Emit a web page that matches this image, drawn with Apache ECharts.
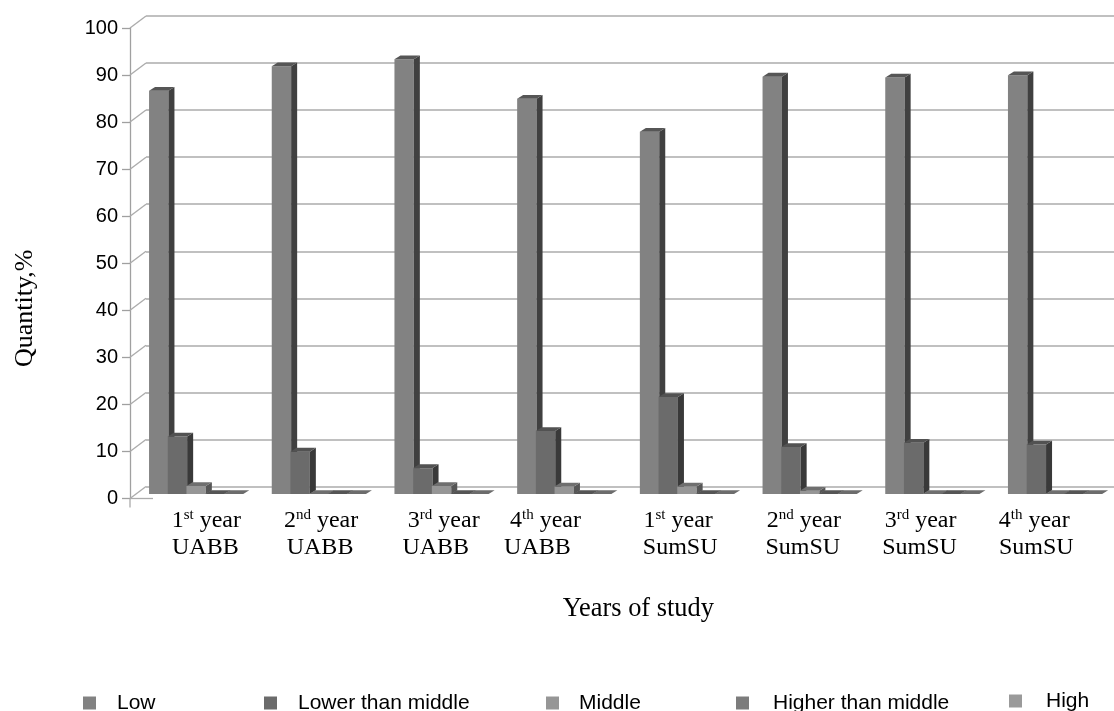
<!DOCTYPE html>
<html><head><meta charset="utf-8">
<style>html,body{margin:0;padding:0;background:#fff}#c{width:1114px;height:711px}</style>
<script src="https://cdn.jsdelivr.net/npm/echarts@6/dist/echarts.min.js"></script>
</head><body><div id="c"></div>
<script>
const ordinals = ['1','2','3','4','1','2','3','4'];
const suffixes = ['st','nd','rd','th','st','nd','rd','th'];
const schools = ['UABB','UABB','UABB','UABB','SumSU','SumSU','SumSU','SumSU'];
const categories = ordinals.map((o,i)=>o+suffixes[i]+' year '+schools[i]);
const yTicks = [0,10,20,30,40,50,60,70,80,90,100];
const seriesNames = ['Low','Lower than middle','Middle','Higher than middle','High'];
const low    = [85.7,90.9,92.4,84,77,88.7,88.5,89];
const lower  = [12.2,9,5.5,13.4,20.6,10,10.9,10.5];
const middle = [1.7,0,1.7,1.6,1.6,0.7,0,0];
const higher = [0,0,0,0,0,0,0,0];
const high   = [0,0,0,0,0,0,0,0];
const seriesValues = [low,lower,middle,higher,high];

const faces = [
 {front:'#828282',side:'#404040',top:'#565656'},
 {front:'#6b6b6b',side:'#393939',top:'#525252'},
 {front:'#969696',side:'#565656',top:'#6f6f6f'},
 {front:'#7c7c7c',side:'#444444',top:'#555555'},
 {front:'#9a9a9a',side:'#5a5a5a',top:'#6c6c6c'}
];
const legendLeft = [83,264,546,736,1009];
const legendTextPad = [16,16,15,19,19];
const line1Nudge = [15,7,7,-14,-4,-1,-7,-16];
const line2Nudge = [14,6,-1,-22,-2,-2,-8,-14];

const GRID_LINE='#ababab', BAR_W=19.4, STEP=18.7, START=-42.3, DX=6, DY=3.8, BASE=4.5;

function barRender(si){
  return function(params,api){
    const i=api.value(0), v=api.value(1);
    const c=api.coord([i,v]), b=api.coord([i,0]);
    const x=c[0]+START+si*STEP, ty=c[1]-BASE, by=b[1]-BASE, f=faces[si];
    const poly=(pts,fill)=>({type:'polygon',shape:{points:pts},style:{fill:fill,stroke:null}});
    return {type:'group',children:[
      {type:'rect',shape:{x:x,y:ty,width:BAR_W,height:by-ty},style:{fill:f.front}},
      poly([[x+BAR_W,ty],[x+BAR_W+DX,ty-DY],[x+BAR_W+DX,by-DY],[x+BAR_W,by]],f.side),
      poly([[x,ty],[x+DX,ty-DY],[x+BAR_W+DX,ty-DY],[x+BAR_W,ty]],f.top)
    ]};
  };
}
function wallRender(params,api){
  const v=api.value(0), y=api.coord([0,v])[1], x=params.coordSys.x;
  const st={stroke:GRID_LINE,lineWidth:1.3};
  const kids=[{type:'line',shape:{x1:x,y1:y,x2:x+16,y2:y-12},style:st}];
  if(v===0){
    kids.push({type:'line',shape:{x1:x,y1:y,x2:x+23,y2:y},style:st});
    kids.push({type:'line',shape:{x1:x,y1:y,x2:x,y2:y+9},style:st});
  }
  return {type:'group',children:kids};
}
const rich={
  a:{fontFamily:'Liberation Serif',fontSize:24,color:'#000',lineHeight:27},
  s:{fontFamily:'Liberation Serif',fontSize:15,color:'#000',lineHeight:27,verticalAlign:'top',padding:[0,0,8,0]}
};
[...line1Nudge,...line2Nudge].forEach(n=>{rich['g'+Math.abs(n)]={width:Math.abs(n)*2,lineHeight:27};});
const pad=(n,t)=> n===0?t:(n>0?`{g${n}|}${t}`:`${t}{g${-n}|}`);
const chart=echarts.init(document.getElementById('c'),null,{renderer:'canvas'});
chart.setOption({
  animation:false,backgroundColor:'#fff',
  grid:[{left:130,top:28,width:981.6,height:470.5,containLabel:false},{left:146,top:15.5,right:0,height:471.5}],
  legend:seriesNames.map((n,i)=>({
    data:[{name:n,icon:'rect',itemStyle:{color:faces[i].front}}],
    left:legendLeft[i],top:i===4?690.5:692.5,itemWidth:13,itemHeight:13,padding:0,
    selectedMode:false,
    textStyle:{fontFamily:'Liberation Sans',fontSize:21,color:'#000',padding:[0,0,0,legendTextPad[i]]}
  })),
  xAxis:[{type:'category',gridIndex:0,data:categories,
    axisLine:{show:false},axisTick:{show:false},
    axisLabel:{interval:0,margin:9,hideOverlap:false,rich:rich,
      formatter:(v,i)=>pad(line1Nudge[i],`{a|${ordinals[i]}}{s|${suffixes[i]}}{a| year}`)+'\n'+pad(line2Nudge[i],`{a|${schools[i]}}`)},
    name:'Years of study',nameLocation:'middle',nameGap:98,
    nameTextStyle:{fontFamily:'Liberation Serif',fontSize:26.4,color:'#000',padding:[0,0,0,35]}
  },{type:'category',gridIndex:1,data:categories,show:false}],
  yAxis:[{type:'value',gridIndex:0,min:0,max:100,interval:10,
    axisLine:{show:true,lineStyle:{color:'#a0a0a0',width:1.3}},
    axisTick:{show:true,length:8,lineStyle:{color:'#a0a0a0',width:1.3}},
    splitLine:{show:false},
    axisLabel:{margin:12,fontFamily:'Liberation Sans',fontSize:20,color:'#000'},
    name:'Quantity,%',nameLocation:'middle',nameGap:92,nameRotate:90,
    nameTextStyle:{fontFamily:'Liberation Serif',fontSize:26,color:'#000',padding:[0,90,0,0]}
  },{type:'value',gridIndex:1,min:0,max:100,interval:10,
    axisLine:{show:false},axisTick:{show:false},axisLabel:{show:false},
    splitLine:{show:true,lineStyle:{color:GRID_LINE,width:1.5}}
  }],
  series:[
    {type:'custom',name:'wall',xAxisIndex:0,yAxisIndex:0,silent:true,clip:false,z:1,
     data:yTicks.map(v=>[v]),encode:{y:0},renderItem:wallRender},
    ...seriesNames.map((n,si)=>({
      type:'custom',name:n,xAxisIndex:0,yAxisIndex:0,clip:false,z:3+si,
      itemStyle:{color:faces[si].front},
      data:seriesValues[si].map((v,i)=>[i,v]),encode:{x:0,y:1},renderItem:barRender(si)
    }))
  ]
});
</script></body></html>
